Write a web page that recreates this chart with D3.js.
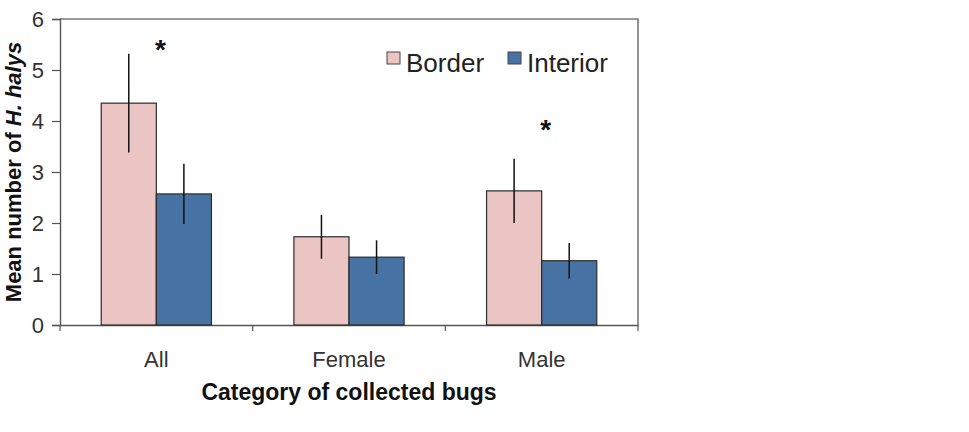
<!DOCTYPE html>
<html lang="en">
<head>
<meta charset="UTF-8">
<script src="https://d3js.org/d3.v7.min.js"></script>
<style>
  body { margin: 0; background: #fff; }
  text { font-family: "Liberation Sans", Arial, sans-serif; }
</style>
<title>H. halys</title>
</head>
<body>
<div id="chart"></div>
<script>
// data
var categories = ["All", "Female", "Male"];
var series = ["Border", "Interior"];
var borderMean = [4.35, 1.73, 2.63];
var borderErr = [0.97, 0.43, 0.63];
var interiorMean = [2.57, 1.33, 1.26];
var interiorErr = [0.59, 0.33, 0.35];
var sigStar = [5.48, null, 3.9];   // asterisk heights (y units)
var yTicks = [0, 1, 2, 3, 4, 5, 6];

var colors = {Border: "#ebc5c4", Interior: "#4673a3"};

var W = 969, H = 432;
var margin = {top: 19, right: 331, bottom: 107, left: 60};
var width = W - margin.left - margin.right,
    height = H - margin.top - margin.bottom;

var svg = d3.select("#chart").append("svg")
    .attr("width", W).attr("height", H);
svg.append("rect").attr("width", W).attr("height", H).attr("fill", "#fff");

var g = svg.append("g")
    .attr("transform", "translate(" + margin.left + "," + margin.top + ")");

var x0 = d3.scaleBand().domain(categories).range([0, width]).padding(0);
var bw = x0.bandwidth();
var x1 = d3.scaleBand().domain(series).range([bw * 0.214, bw * 0.786]).padding(0);
var y = d3.scaleLinear().domain([0, 6]).range([height, 0]);

// frame (top + right)
g.append("path")
  .attr("d", "M0,0H" + width + "V" + height)
  .attr("fill", "none").attr("stroke", "#7a7a7a").attr("stroke-width", 1.6);

// y axis
var yAxis = g.append("g")
  .call(d3.axisLeft(y).tickValues(yTicks).tickFormat(d3.format("d")).tickSize(8).tickPadding(8));
yAxis.select(".domain").attr("stroke", "#555").attr("stroke-width", 1.4);
yAxis.selectAll(".tick line").attr("stroke", "#555").attr("stroke-width", 1.2);
yAxis.selectAll("text").style("font-size", "22px").attr("fill", "#333")
  .style("font-family", "'Liberation Sans', Arial, sans-serif");

// x axis
var xAxis = g.append("g")
  .attr("transform", "translate(0," + height + ")")
  .call(d3.axisBottom(x0).tickSize(0).tickPadding(26));
xAxis.select(".domain").attr("stroke", "#555").attr("stroke-width", 1.4);
xAxis.selectAll("text").style("font-size", "22px").attr("fill", "#333")
  .style("font-family", "'Liberation Sans', Arial, sans-serif");
// ticks at category boundaries
var bounds = categories.map(function(c) { return x0(c); }).concat([width]);
xAxis.selectAll(".bound").data(bounds).enter().append("line")
  .attr("x1", function(d) { return d; }).attr("x2", function(d) { return d; })
  .attr("y1", 0).attr("y2", 6)
  .attr("stroke", "#555").attr("stroke-width", 1.2);

// bars
var rows = [];
categories.forEach(function(c, i) {
  rows.push({cat: c, s: "Border", v: borderMean[i], e: borderErr[i]});
  rows.push({cat: c, s: "Interior", v: interiorMean[i], e: interiorErr[i]});
});

g.selectAll(".bar").data(rows).enter().append("rect")
  .attr("x", function(d) { return x0(d.cat) + x1(d.s); })
  .attr("y", function(d) { return y(d.v); })
  .attr("width", x1.bandwidth())
  .attr("height", function(d) { return height - y(d.v); })
  .attr("fill", function(d) { return colors[d.s]; })
  .attr("stroke", "#2b2b2b").attr("stroke-width", 1.2);

// error bars
g.selectAll(".err").data(rows).enter().append("line")
  .attr("x1", function(d) { return x0(d.cat) + x1(d.s) + x1.bandwidth() / 2; })
  .attr("x2", function(d) { return x0(d.cat) + x1(d.s) + x1.bandwidth() / 2; })
  .attr("y1", function(d) { return y(d.v + d.e); })
  .attr("y2", function(d) { return y(d.v - d.e); })
  .attr("stroke", "#111").attr("stroke-width", 1.5);

// significance asterisks
g.selectAll(".star").data(categories.filter(function(c, i) { return sigStar[i] != null; }))
  .enter().append("text")
  .attr("x", function(c) { return x0(c) + bw / 2 + 4; })
  .attr("y", function(c) { return y(sigStar[categories.indexOf(c)]) + 13; })
  .attr("text-anchor", "middle")
  .style("font-size", "28px").style("font-weight", "bold").attr("fill", "#111")
  .text("*");

// legend
var legend = g.append("g").attr("transform", "translate(327,33)");
var lx = [0, 121];
series.forEach(function(s, i) {
  legend.append("rect")
    .attr("x", lx[i]).attr("y", 0).attr("width", 13).attr("height", 12)
    .attr("fill", colors[s]).attr("stroke", "#444").attr("stroke-width", 1);
  legend.append("text")
    .attr("x", lx[i] + 19).attr("y", 20)
    .style("font-size", "26px").attr("fill", "#222")
    .text(s);
});

// axis titles
svg.append("text")
  .attr("x", margin.left + width / 2).attr("y", 400)
  .attr("text-anchor", "middle")
  .style("font-size", "23px").style("font-weight", "bold").attr("fill", "#111")
  .text("Category of collected bugs");

var yl = svg.append("text")
  .attr("transform", "translate(21," + (margin.top + height / 2) + ") rotate(-90)")
  .attr("text-anchor", "middle")
  .style("font-size", "22px").style("font-weight", "bold").attr("fill", "#111");
yl.append("tspan").text("Mean number of ");
yl.append("tspan").style("font-style", "italic").text("H. halys");
</script>
</body>
</html>
